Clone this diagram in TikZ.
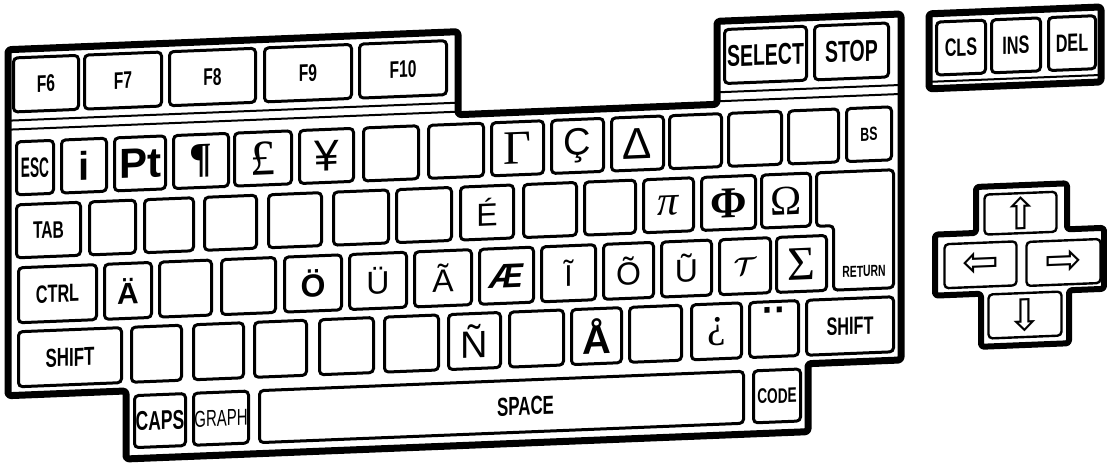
\documentclass[tikz,border=0pt]{standalone}
\usepackage{fontspec}
\setmainfont{Liberation Sans}
\newfontfamily\keyfont[FakeStretch=0.65]{Liberation Sans}
\newfontfamily\symsans{Liberation Sans}
\newfontfamily\symserif{Liberation Serif}
\newfontfamily\arrowfont{DejaVu Sans}
\newcommand\sansch[2]{{\symsans\mdseries\fontsize{#1}{#1}\selectfont #2}}
\newcommand\sansbd[2]{{\symsans\bfseries\fontsize{#1}{#1}\selectfont #2}}
\newcommand\sansbi[2]{{\symsans\bfseries\itshape\fontsize{#1}{#1}\selectfont #2}}
\newcommand\serifch[2]{{\symserif\mdseries\fontsize{#1}{#1}\selectfont #2}}
\newcommand\serifbd[2]{{\symserif\bfseries\fontsize{#1}{#1}\selectfont #2}}
\newcommand\serifit[2]{{\symserif\mdseries\itshape\fontsize{#1}{#1}\selectfont #2}}
\newcommand\keysize[2]{{\fontsize{#1}{#1}\selectfont #2}}
\tikzset{
  keycap/.style={draw, line width=3pt, rounded corners=4pt, inner sep=0pt, fill=white,
    font={\keyfont\bfseries\fontsize{24}{24}\selectfont}},
  arrowkey/.style={keycap, line width=2.4pt, font={\arrowfont\fontsize{44}{44}\selectfont}},
  caseline/.style={line width=7pt, rounded corners=3pt, line join=round},
  panelline/.style={line width=2pt},
}
\begin{document}
\begin{tikzpicture}[x=1pt, y=-1pt]
  \useasboundingbox (0,0) rectangle (1107,466);
  \begin{scope}[yslant=0.04, transform shape]
    % case of the main block
    \draw[caseline] (8,50) -- (458,50) -- (458,133) -- (717,133) -- (717,50) -- (901,50)
      -- (901,396) -- (808,396) -- (808,464) -- (126,464) -- (126,396) -- (8,396) -- cycle;
    \draw[panelline] (8,121) -- (458,121) (8,130) -- (458,130);
    \draw[panelline] (717,121) -- (901,121) (717,130) -- (901,130);

    % function keys
    \foreach \xa/\xb/\lab/\nm in {12/80/F6/f6, 83/163/F7/f7, 168/257/F8/f8, 263/353/F9/f9,
        358/448/F10/f10, 723/808/{\keysize{30}{SELECT}}/select, 813/890/{\keysize{30}{STOP}}/stop}
      \node[keycap, minimum width={(\xb-\xa-3)*1pt}, minimum height=54pt] (\nm) at ({(\xa+\xb)/2},85.5) {\lab};

    % first row
    \foreach \xa/\xb/\lab/\nm in {15/55/{\scalebox{0.75}[1]{\keysize{28}{ESC}}}/esc,
        60/108/{\sansbd{40}{i}}/ikey, 113/167/{\sansbd{42}{Pt}}/pt, 172/230/{\serifbd{42}{¶}}/para,
        233/293/{\serifch{50}{£}}/pound, 298/355/{\sansch{44}{¥}}/yen, 362/420/{}/ka, 427/485/{}/kb,
        490/545/{\serifch{48}{Γ}}/gamma, 550/605/{\sansch{38}{Ç}}/ccedil, 610/665/{\sansch{44}{Δ}}/delta,
        668/723/{}/kc, 727/783/{}/kd, 787/840/{}/ke, 845/893/{\keysize{19}{BS}}/bs}
      \node[keycap, minimum width={(\xb-\xa-3)*1pt}, minimum height=53pt] (\nm) at ({(\xa+\xb)/2},169) {\lab};

    % second row
    \foreach \xa/\xb/\lab/\nm in {15/82/TAB/tab, 88/137/{}/kf, 143/195/{}/kg, 203/258/{}/kh,
        267/323/{}/ki, 332/390/{}/kj, 395/453/{}/kk, 459/515/{\sansch{32}{É}}/eacute,
        522/578/{}/kl, 583/637/{}/km, 642/695/{\serifit{42}{π}}/pi, 700/757/{\serifbd{44}{Φ}}/phi,
        760/812/{\serifch{42}{Ω}}/omega}
      \node[keycap, minimum width={(\xb-\xa-3)*1pt}, minimum height=53pt] (\nm) at ({(\xa+\xb)/2},232) {\lab};

    % return key
    \draw[keycap] (816.5,205.5) -- (893.5,205.5) -- (893.5,323.5) -- (833.5,323.5) -- (833.5,259)
      -- (816.5,259) -- cycle;
    \node[font={\keyfont\bfseries\fontsize{16}{16}\selectfont}] (return) at (864,306) {RETURN};

    % third row
    \foreach \xa/\xb/\lab/\nm in {17/98/{\keysize{25}{CTRL}}/ctrl, 103/153/{\sansbd{30}{Ä}}/auml,
        158/213/{}/kn, 220/277/{}/ko, 283/343/{\sansbd{32}{Ö}}/ouml, 348/408/{\sansch{32}{Ü}}/uuml,
        413/473/{\sansch{32}{Ã}}/atilde, 478/535/{\sansbi{34}{Æ}}/aelig, 540/597/{\sansch{30}{Ĩ}}/itilde,
        602/655/{\sansch{32}{Õ}}/otilde, 660/713/{\sansch{32}{Ũ}}/utilde,
        718/772/{\keysize{34}{\boldmath$\mathcal{T}$}}/calt, 775/828/{\serifch{48}{Σ}}/sigma}
      \node[keycap, minimum width={(\xb-\xa-3)*1pt}, minimum height=55pt] (\nm) at ({(\xa+\xb)/2},296) {\lab};

    % fourth row
    \foreach \xa/\xb/\lab/\nm in {17/123/{\keysize{26}{SHIFT}}/lshift, 130/183/{}/kp, 192/245/{}/kq,
        253/308/{}/kr, 318/375/{}/ks, 383/440/{}/kt, 447/502/{\sansch{38}{Ñ}}/ntilde, 508/565/{}/ku,
        570/623/{\sansbd{40}{Å}}/aring, 628/683/{}/kv, 690/743/{\serifch{42}{¿}}/iquest,
        748/800/{\sansch{64}{¨}}/uml, 805/895/{\keysize{25}{SHIFT}}/rshift}
      \node[keycap, minimum width={(\xb-\xa-3)*1pt}, minimum height=55pt] (\nm) at ({(\xa+\xb)/2},360) {\lab};

    % bottom row
    \foreach \xa/\xb/\lab/\nm in {133/187/{\keysize{27}{CAPS}}/caps, 192/250/{\keysize{23}{\mdseries GRAPH}}/graph,
        752/802/{\keysize{21}{CODE}}/code}
      \node[keycap, minimum width={(\xb-\xa-3)*1pt}, minimum height=52pt] (\nm) at ({(\xa+\xb)/2},427) {\lab};
    \node[keycap, minimum width=484pt, minimum height=52pt,
      label={[font={\keyfont\bfseries\fontsize{26}{26}\selectfont}, xshift=24pt]center:SPACE}] (space) at (501.5,427) {};

    % clear, insert, delete
    \draw[caseline] (929,51) rectangle (1101,126);
    \draw[panelline] (929,119) -- (1101,119);
    \foreach \xa/\xb/\lab/\nm in {935/987/CLS/cls, 990/1042/INS/ins, 1047/1097/DEL/del}
      \node[keycap, minimum width={(\xb-\xa-3)*1pt}, minimum height=53pt] (\nm) at ({(\xa+\xb)/2},86) {\keysize{25}{\lab}};

    % cursor keys
    \draw[caseline, line width=6pt] (976,226) -- (1067,226) -- (1067,272) -- (1104,272) -- (1104,333)
      -- (1069,333) -- (1069,386) -- (981,386) -- (981,333) -- (935,333) -- (935,272) -- (976,272) -- cycle;
    \node[arrowkey, minimum width=72pt, minimum height=40pt] (up) at (1020.5,254) {⇧};
    \node[arrowkey, minimum width=72pt, minimum height=44pt] (left) at (980.5,304) {⇦};
    \node[arrowkey, minimum width=74pt, minimum height=44pt] (right) at (1063.5,305) {⇨};
    \node[arrowkey, minimum width=73pt, minimum height=44pt] (down) at (1025,356) {⇩};
  \end{scope}
\end{tikzpicture}
\end{document}
